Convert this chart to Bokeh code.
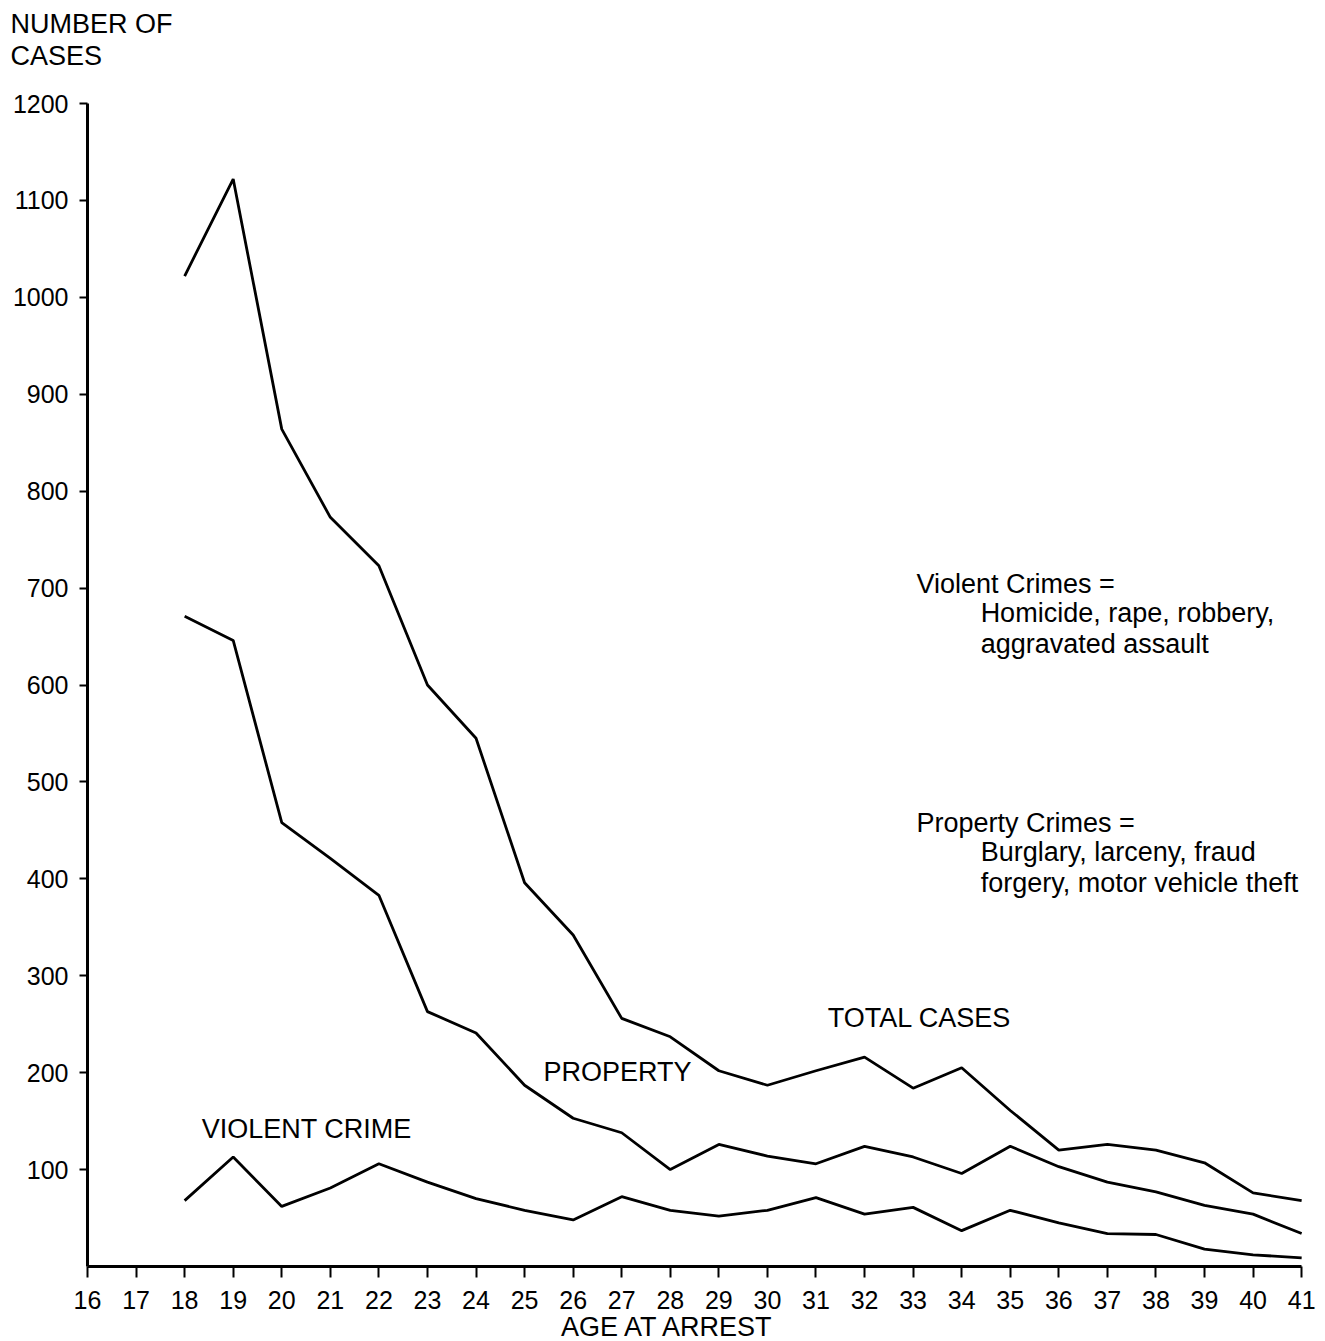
from bokeh.plotting import figure
from bokeh.models import Label, FixedTicker, Range1d, Title
from bokeh.embed import file_html
from bokeh.resources import INLINE

ages = list(range(18, 42))
total_cases = [1022, 1122, 864, 773, 723, 600, 545, 396, 342, 256, 237, 202, 187,
               202, 216, 184, 205, 161, 120, 126, 120, 107, 76, 68]
property_crimes = [671, 646, 458, 421, 383, 263, 241, 187, 153, 138, 100, 126, 114,
                   106, 124, 113, 96, 124, 103, 87, 77, 63, 54, 34]
violent_crimes = [68, 113, 62, 81, 106, 87, 70, 58, 48, 72, 58, 52, 58,
                  71, 54, 61, 37, 58, 45, 34, 33, 18, 12, 9]
x_ticks = list(range(16, 42))
y_ticks = list(range(100, 1300, 100))

FONT = "Liberation Sans"
NB = "\u00a0"

p = figure(title=None, frame_width=1236, frame_height=1163,
           min_border_left=87, min_border_right=2, min_border_top=103, min_border_bottom=10,
           x_range=Range1d(16, 41.45), y_range=Range1d(0, 1200),
           output_backend="svg", toolbar_location=None)
p.outline_line_color = None
p.grid.visible = False
p.background_fill_color = "white"
p.border_fill_color = "white"

for ax in (p.xaxis[0], p.yaxis[0]):
    ax.axis_line_width = 3
    ax.axis_line_color = "black"
    ax.major_tick_line_color = "black"
    ax.major_tick_line_width = 2
    ax.minor_tick_line_color = None
    ax.major_tick_in = 0
    ax.major_label_text_font = FONT
    ax.major_label_text_font_size = "25px"
    ax.major_label_text_color = "black"

p.xaxis[0].bounds = (16, 41)
p.xaxis[0].ticker = FixedTicker(ticks=x_ticks)
p.xaxis[0].major_tick_out = 11
p.xaxis[0].major_label_standoff = 13
p.xaxis[0].axis_label = "AGE AT ARREST" + NB * 10
p.xaxis[0].axis_label_text_font = FONT
p.xaxis[0].axis_label_text_font_size = "27px"
p.xaxis[0].axis_label_text_font_style = "normal"
p.xaxis[0].axis_label_text_color = "black"
p.xaxis[0].axis_label_standoff = 0

p.yaxis[0].bounds = (0, 1200)
p.yaxis[0].ticker = FixedTicker(ticks=y_ticks)
p.yaxis[0].major_tick_out = 8
p.yaxis[0].major_label_standoff = 11

for series in (total_cases, property_crimes, violent_crimes):
    p.line(ages, series, line_color="black", line_width=2.8)

# y-axis title stacked above the frame (a blank spacer sits nearest the frame)
for txt, so in ((NB, 1), ("CASES", 0), ("NUMBER OF", 0)):
    p.add_layout(Title(text=txt, align="left", offset=-77, text_font=FONT,
                       text_font_size="27px", text_font_style="normal",
                       text_color="black", standoff=so), "above")

def lab(x, y, text, size="27px", align="left"):
    p.add_layout(Label(x=x, y=y, text=text, text_font=FONT, text_font_size=size,
                       text_color="black", text_align=align, text_baseline="middle"))

# series labels
lab(31.24, 256.9, "TOTAL CASES")
lab(25.39, 200.2, "PROPERTY")
lab(18.35, 141.4, "VIOLENT CRIME")

# definitions
lab(33.07, 704.7, "Violent Crimes =")
lab(34.39, 673.8, "Homicide, rape, robbery,")
lab(34.39, 642.8, "aggravated assault")
lab(33.07, 458.1, "Property Crimes =")
lab(34.39, 427.2, "Burglary, larceny, fraud")
lab(34.39, 396.2, "forgery, motor vehicle theft")

open("out.html", "w").write(file_html(p, INLINE))
